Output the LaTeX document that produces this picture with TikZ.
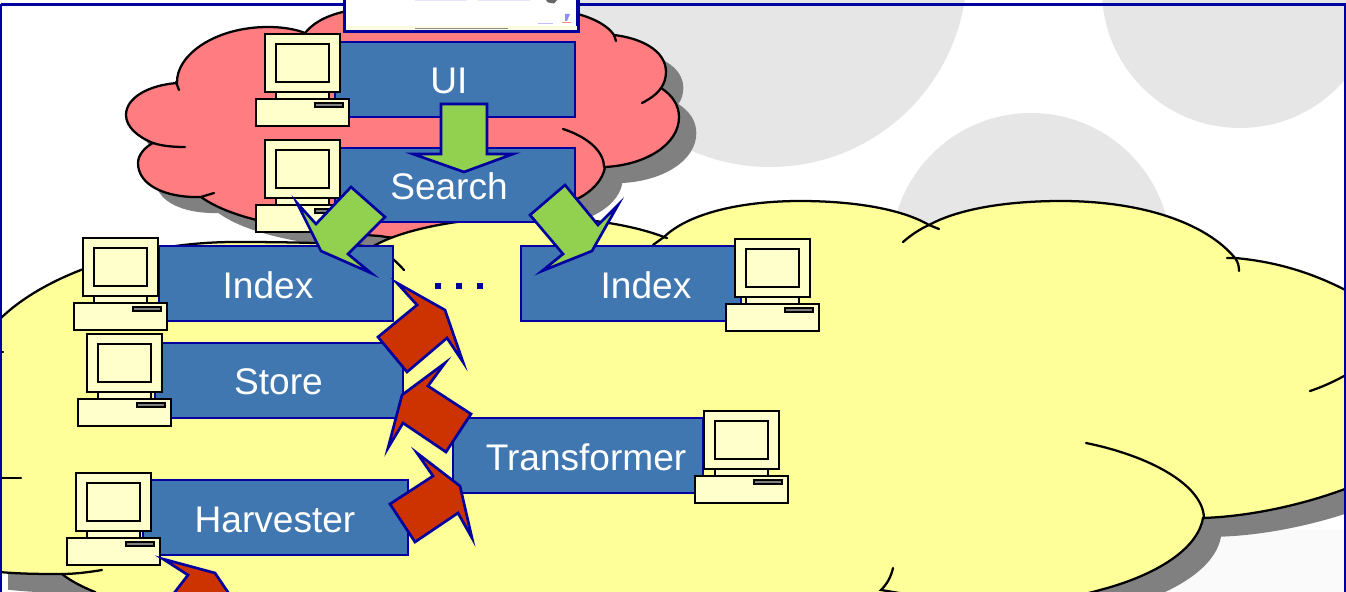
\documentclass[tikz,border=0pt]{standalone}
\usepackage{fontspec}
\setmainfont{Liberation Sans}
\definecolor{frameblue}{HTML}{0000A0}
\definecolor{boxblue}{HTML}{4077B0}
\definecolor{pinkc}{HTML}{FF7C80}
\definecolor{yellowc}{HTML}{FFFF99}
\definecolor{pcfill}{HTML}{FFFFCC}
\definecolor{bubble}{HTML}{E6E6E6}
\definecolor{shadowc}{HTML}{808080}
\definecolor{greenc}{HTML}{92D050}
\definecolor{redc}{HTML}{CC3300}
\tikzset{
  cloudline/.style={draw=black,line width=1.7pt,line cap=round},
  tierbox/.style={rectangle,draw=frameblue,fill=boxblue,line width=2pt,inner sep=0pt},
  tierlabel/.style={text=white,font=\fontsize{27.8}{30}\selectfont,inner sep=0pt},
  greenarrow/.style={draw=frameblue,fill=greenc,line width=2pt,line join=miter},
  redarrow/.style={draw=frameblue,fill=redc,line width=2pt,line join=miter},
  pcpart/.style={draw=black,fill=pcfill,line width=2.1pt},
  computer/.pic={
    \path[pcpart] (11,56) rectangle (64,66);
    \path[pcpart] (0,0) rectangle (75,58);
    \path[pcpart] (11,10) rectangle (64,48);
    \path[pcpart] (-9,65) rectangle (84,92);
    \path[draw=black,fill=shadowc,line width=1.3pt] (50,69) rectangle (78,73);
  }
}
\def\pinkoutline{(177,83) .. controls (176,55) and (215,27) .. (268,27) .. controls (282,27) and (295,29) .. (305,33)
 .. controls (320,15) and (345,8) .. (400,5) .. controls (480,2) and (590,0) .. (614,35)
 .. controls (640,38) and (666,50) .. (666,72) .. controls (666,78) and (664,84) .. (661,88)
 .. controls (672,95) and (679,105) .. (679,117) .. controls (679,145) and (645,165) .. (605,167)
 .. controls (603,180) and (592,192) .. (575,200) .. controls (550,225) and (450,248) .. (380,236)
 .. controls (320,232) and (240,225) .. (201,197) .. controls (165,198) and (138,185) .. (138,163)
 .. controls (138,155) and (145,147) .. (153,143) .. controls (138,137) and (126,127) .. (126,115)
 .. controls (126,97) and (150,85) .. (177,83) -- cycle}
\def\yellowoutline{(-10,330) .. controls (30,280) and (130,242) .. (235,242) .. controls (290,242) and (345,243) .. (372,247)
 .. controls (400,230) and (460,217) .. (530,217) .. controls (580,217) and (630,224) .. (664,237)
 .. controls (690,212) and (745,201) .. (800,201) .. controls (850,201) and (900,208) .. (929,225)
 .. controls (960,208) and (1010,201) .. (1061,201) .. controls (1140,201) and (1205,222) .. (1235,258)
 .. controls (1280,262) and (1320,275) .. (1360,298) -- (1400,330) -- (1400,470) -- (1360,483)
 .. controls (1320,500) and (1260,516) .. (1203,518) .. controls (1197,552) and (1150,577) .. (1100,590)
 .. controls (1090,593) and (1080,595) .. (1070,597)
 -- (1000,660) -- (100,660) -- (95,592) .. controls (85,588) and (72,582) .. (62,574)
 .. controls (40,574) and (15,574) .. (-10,571) -- cycle}
\begin{document}
\begin{tikzpicture}[x=0.75pt,y=-0.75pt]
\useasboundingbox (0,0) rectangle (1346,592);
\begin{scope}
\clip (0,0) rectangle (1346,592);
% background
\fill[white] (0,0) rectangle (1346,592);
\fill[bubble] (770,-30) circle[radius=197];
\fill[bubble] (1240,-10) circle[radius=138];
\fill[bubble] (1031,253) circle[radius=140];
\fill[white!98!black] (1150,530) rectangle (1346,592);
% pink cloud
\fill[shadowc,xshift=13pt,yshift=-12pt] \pinkoutline;
\path[cloudline,fill=pinkc] \pinkoutline;
\draw[cloudline] (176,82) -- (179,90);
\draw[cloudline] (153,143) .. controls (162,146) and (173,147) .. (185,147);
\draw[cloudline] (214,193) -- (201,197);
\draw[cloudline] (616,41) -- (614,35);
\draw[cloudline] (661,88) .. controls (657,94) and (650,99) .. (642,103);
\draw[cloudline] (563,129) .. controls (585,136) and (604,150) .. (604,167);
% yellow cloud
\fill[shadowc,xshift=13.5pt,yshift=-14pt] \yellowoutline;
\path[cloudline,fill=yellowc] \yellowoutline;
\draw[cloudline] (372,247) .. controls (385,251) and (395,260) .. (404,270);
\draw[cloudline] (664,237) -- (653,245);
\draw[cloudline] (664,237) -- (667,238);
\draw[cloudline] (929,225) -- (939,229);
\draw[cloudline] (929,225) .. controls (920,229) and (911,235) .. (903,242);
\draw[cloudline] (1227,258) -- (1235,258) .. controls (1238,262) and (1239,266) .. (1239,271);
\draw[cloudline] (1310,391) .. controls (1322,387) and (1333,382) .. (1344,376);
\draw[cloudline] (1086,443) .. controls (1150,456) and (1203,485) .. (1204,518);
\draw[cloudline] (893,568) .. controls (891,577) and (887,584) .. (881,590) -- (905,594);
\draw[cloudline] (0,478) -- (21,478);
\draw[cloudline] (0,352) -- (3,352);
\draw[cloudline] (62,574) .. controls (75,574) and (90,572) .. (102,570);
% frame
\draw[frameblue,line width=2pt] (0.8,4.5) -- (1345,4.5) -- (1345,600) (0.8,4.5) -- (0.8,600);
\end{scope}
% tier boxes
\node[tierbox,minimum width=180pt,minimum height=56.25pt] (ui) at (455,79.5) {};
\node[tierlabel] (uilabel) at (449,80.5) {UI};
\node[tierbox,minimum width=180pt,minimum height=55.5pt] (search) at (455,185) {};
\node[tierlabel] (searchlabel) at (449,186) {Search};
\node[tierbox,minimum width=175.5pt,minimum height=56.25pt] (indexa) at (276,283.5) {};
\node[tierlabel] (indexalabel) at (268,285.5) {Index};
\node[tierbox,minimum width=165pt,minimum height=56.25pt] (indexb) at (631,283.5) {};
\node[tierlabel] (indexblabel) at (646,285.5) {Index};
\node[tierbox,minimum width=186pt,minimum height=56.25pt] (store) at (279,380.5) {};
\node[tierlabel] (storelabel) at (278.5,382) {Store};
\node[tierbox,minimum width=198.75pt,minimum height=56.25pt] (harvester) at (275.5,517.5) {};
\node[tierlabel] (harvesterlabel) at (275,519.5) {Harvester};
\node[tierbox,minimum width=187.5pt,minimum height=56.25pt] (transformer) at (578,455.5) {};
\node[tierlabel] (transformerlabel) at (586,457) {Transformer};
% dots
\foreach \dx in {435,456,477} \fill[frameblue] (\dx,283) rectangle ++(6,6);
% computers
\pic at (265,34) {computer};
\pic at (265,140) {computer};
\pic at (83,238) {computer};
\pic at (87,334) {computer};
\pic at (76,473) {computer};
\pic at (735,239) {computer};
\pic at (704,411) {computer};
% screenshot
\draw[frameblue,fill=white,line width=2.4pt] (344.5,-10) rectangle (578,31);
\fill[black!8!yellow!12!white] (346,26.5) rectangle (576.5,30);
\draw[black!45,line width=0.5pt] (415,28.3) -- (508,28.3);
\fill[black!60] (545,-1) -- (558,-1) -- (554,3.5) -- (548,2.5) -- cycle;
\fill[black!10!blue!10!white] (415,-1) rectangle (467,1);
\fill[black!10!blue!10!white] (478,-1) rectangle (530,1);
\fill[blue!45] (565,14) -- (570,14) -- (567,21) -- (565,21) -- cycle;
\fill[red!45] (562,22) rectangle (571,23.5);
\fill[blue!25] (538,23) rectangle (553,24);
% arrows
\path[greenarrow] (441,104) -- (487,104) -- (487,154) -- (513,154) -- (464,172) -- (413,154) -- (441,154) -- cycle;
\path[greenarrow] (351,187) -- (316,224) -- (297,203) -- (321,251) -- (371,273) -- (348,254) -- (385,217) -- cycle;
\path[greenarrow] (565,185) -- (598,225) -- (618,205) -- (592,251) -- (542,271) -- (563,254) -- (530,215) -- cycle;
\path[redarrow] (378,337) -- (417,305) -- (397,283) -- (445,310) -- (463,362) -- (447,338) -- (407,372) -- cycle;
\path[redarrow] (471,414) -- (428,386) -- (445,363) -- (402,395) -- (388,448) -- (403,423) -- (446,452) -- cycle;
\path[redarrow] (390,504) -- (433,476) -- (417,453) -- (460,486) -- (472,538) -- (458,513) -- (415,542) -- cycle;
\begin{scope}
\clip (0,0) rectangle (1346,592);
\path[redarrow] (163,559) -- (215,573) -- (240,610) -- (161,610) -- (188,575) -- cycle;
\end{scope}
\end{tikzpicture}
\end{document}
